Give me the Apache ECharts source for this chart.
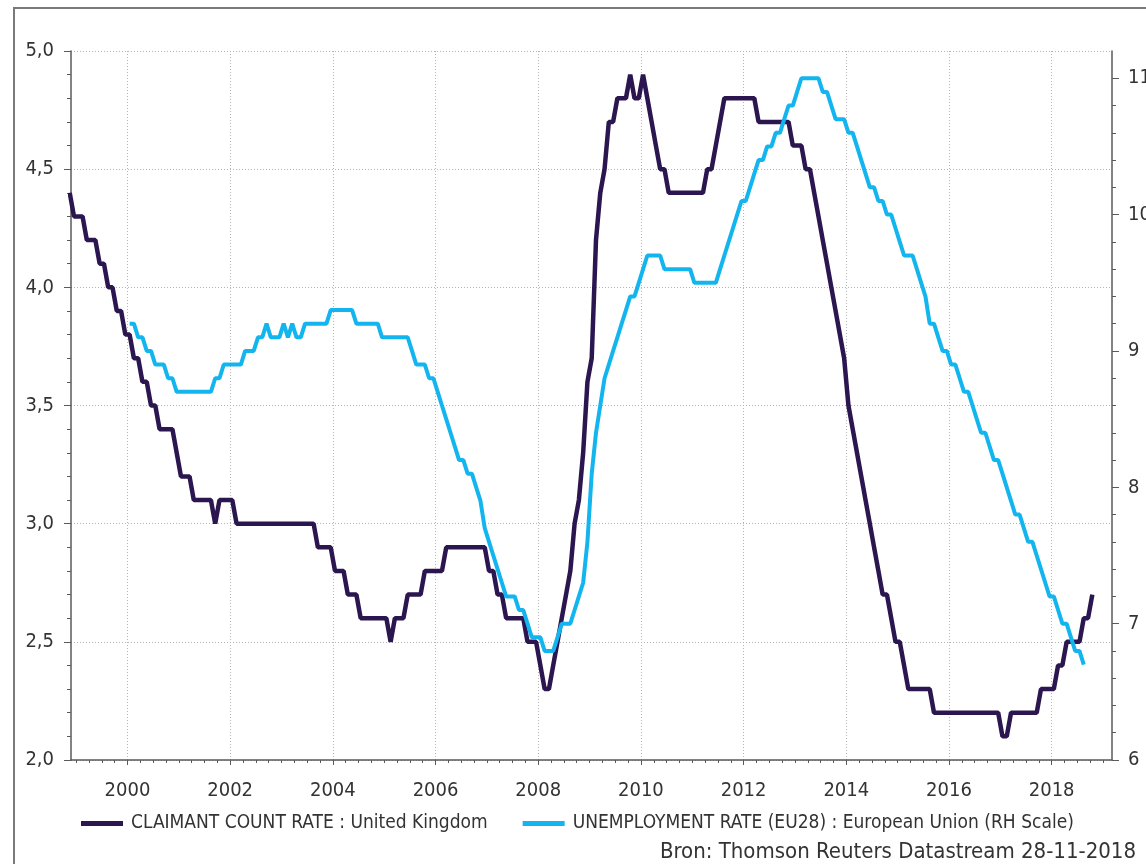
<!DOCTYPE html>
<html>
<head>
<meta charset="utf-8">
<script src="https://cdn.jsdelivr.net/npm/echarts@6/dist/echarts.min.js"></script>
<style>
html,body{margin:0;padding:0;background:#fff;overflow:hidden;}
#chart{width:1146px;height:864px;}
</style>
</head>
<body>
<div id="chart"></div>
<script>
var FONT = "'DejaVu Sans Condensed', 'Liberation Sans', sans-serif";

// maandcijfers (midden van de maand), eerste maand staat in de *Start variabele
var claimantStart = [1998, 11];
var claimantRate = [
	4.4,4.3,
	4.3,4.3,4.2,4.2,4.2,4.1,4.1,4.0,4.0,3.9,3.9,3.8,          // 1999
	3.8,3.7,3.7,3.6,3.6,3.5,3.5,3.4,3.4,3.4,3.4,3.3,          // 2000
	3.2,3.2,3.2,3.1,3.1,3.1,3.1,3.1,3.0,3.1,3.1,3.1,          // 2001
	3.1,3.0,3.0,3.0,3.0,3.0,3.0,3.0,3.0,3.0,3.0,3.0,          // 2002
	3.0,3.0,3.0,3.0,3.0,3.0,3.0,3.0,2.9,2.9,2.9,2.9,          // 2003
	2.8,2.8,2.8,2.7,2.7,2.7,2.6,2.6,2.6,2.6,2.6,2.6,          // 2004
	2.6,2.5,2.6,2.6,2.6,2.7,2.7,2.7,2.7,2.8,2.8,2.8,          // 2005
	2.8,2.8,2.9,2.9,2.9,2.9,2.9,2.9,2.9,2.9,2.9,2.9,          // 2006
	2.8,2.8,2.7,2.7,2.6,2.6,2.6,2.6,2.6,2.5,2.5,2.5,          // 2007
	2.4,2.3,2.3,2.4,2.5,2.6,2.7,2.8,3.0,3.1,3.3,3.6,          // 2008
	3.7,4.2,4.4,4.5,4.7,4.7,4.8,4.8,4.8,4.9,4.8,4.8,          // 2009
	4.9,4.8,4.7,4.6,4.5,4.5,4.4,4.4,4.4,4.4,4.4,4.4,          // 2010
	4.4,4.4,4.4,4.5,4.5,4.6,4.7,4.8,4.8,4.8,4.8,4.8,          // 2011
	4.8,4.8,4.8,4.7,4.7,4.7,4.7,4.7,4.7,4.7,4.7,4.6,          // 2012
	4.6,4.6,4.5,4.5,4.4,4.3,4.2,4.1,4.0,3.9,3.8,3.7,          // 2013
	3.5,3.4,3.3,3.2,3.1,3.0,2.9,2.8,2.7,2.7,2.6,2.5,          // 2014
	2.5,2.4,2.3,2.3,2.3,2.3,2.3,2.3,2.2,2.2,2.2,2.2,          // 2015
	2.2,2.2,2.2,2.2,2.2,2.2,2.2,2.2,2.2,2.2,2.2,2.2,          // 2016
	2.1,2.1,2.2,2.2,2.2,2.2,2.2,2.2,2.2,2.3,2.3,2.3,          // 2017
	2.3,2.4,2.4,2.5,2.5,2.5,2.5,2.6,2.6,2.7                   // 2018
];

var euStart = [2000, 1];
var euRate = [
	9.2,9.2,9.1,9.1,9.0,9.0,8.9,8.9,8.9,8.8,8.8,8.7,          // 2000
	8.7,8.7,8.7,8.7,8.7,8.7,8.7,8.7,8.8,8.8,8.9,8.9,          // 2001
	8.9,8.9,8.9,9.0,9.0,9.0,9.1,9.1,9.2,9.1,9.1,9.1,          // 2002
	9.2,9.1,9.2,9.1,9.1,9.2,9.2,9.2,9.2,9.2,9.2,9.3,          // 2003
	9.3,9.3,9.3,9.3,9.3,9.2,9.2,9.2,9.2,9.2,9.2,9.1,          // 2004
	9.1,9.1,9.1,9.1,9.1,9.1,9.0,8.9,8.9,8.9,8.8,8.8,          // 2005
	8.7,8.6,8.5,8.4,8.3,8.2,8.2,8.1,8.1,8.0,7.9,7.7,          // 2006
	7.6,7.5,7.4,7.3,7.2,7.2,7.2,7.1,7.1,7.0,6.9,6.9,          // 2007
	6.9,6.8,6.8,6.8,6.9,7.0,7.0,7.0,7.1,7.2,7.3,7.6,          // 2008
	8.1,8.4,8.6,8.8,8.9,9.0,9.1,9.2,9.3,9.4,9.4,9.5,          // 2009
	9.6,9.7,9.7,9.7,9.7,9.6,9.6,9.6,9.6,9.6,9.6,9.6,          // 2010
	9.5,9.5,9.5,9.5,9.5,9.5,9.6,9.7,9.8,9.9,10.0,10.1,        // 2011
	10.1,10.2,10.3,10.4,10.4,10.5,10.5,10.6,10.6,10.7,10.8,10.8, // 2012
	10.9,11.0,11.0,11.0,11.0,11.0,10.9,10.9,10.8,10.7,10.7,10.7, // 2013
	10.6,10.6,10.5,10.4,10.3,10.2,10.2,10.1,10.1,10.0,10.0,9.9,  // 2014
	9.8,9.7,9.7,9.7,9.6,9.5,9.4,9.2,9.2,9.1,9.0,9.0,          // 2015
	8.9,8.9,8.8,8.7,8.7,8.6,8.5,8.4,8.4,8.3,8.2,8.2,          // 2016
	8.1,8.0,7.9,7.8,7.8,7.7,7.6,7.6,7.5,7.4,7.3,7.2,          // 2017
	7.2,7.1,7.0,7.0,6.9,6.8,6.8,6.7                           // 2018
];

var yearLabels = [2000, 2002, 2004, 2006, 2008, 2010, 2012, 2014, 2016, 2018];
var rightLabels = [6, 7, 8, 9, 10, 11];
var seriesNames = [
	'CLAIMANT COUNT RATE : United Kingdom',
	'UNEMPLOYMENT RATE (EU28) : European Union (RH Scale)'
];
var footerText = 'Bron: Thomson Reuters Datastream 28-11-2018';

function monthly(start, values){
	var out = [];
	for (var i = 0; i < values.length; i++) {
		out.push([start[0] + (start[1] - 0.5 + i) / 12, values[i]]);
	}
	return out;
}

// kwartaal-streepjes op de x-as, 0,2-stappen op de rechteras
var quarterTicks = [];
for (var q = 1999; q <= 2019; q += 0.25) {
	if (q % 2 !== 0) quarterTicks.push(q);
}
var rightMinor = [];
for (var r = 62; r <= 110; r += 2) {
	if (r % 10 !== 0) rightMinor.push(r / 10);
}

var axisColor = '#5a5a5a';
var textColor = '#333';
var gridLine = {show: true, lineStyle: {color: '#b4b4b4', type: [1, 2], width: 1}};

var myChart = echarts.init(document.getElementById('chart'), null, {renderer: 'canvas'});
var option = {
	animation: false,
	backgroundColor: '#fff',
	grid: {left: 71, right: 34, top: 51, bottom: 104, containLabel: false, outerBoundsMode: 'none'},
	legend: {
		left: 81,
		top: 814,
		padding: 0,
		icon: 'rect',
		itemWidth: 42,
		itemHeight: 5,
		itemGap: 35,
		data: seriesNames,
		textStyle: {fontFamily: FONT, fontSize: 19, color: textColor, padding: [0, 0, 0, 3]}
	},
	graphic: [
		{
			type: 'rect',
			silent: true,
			shape: {x: 14, y: 8, width: 1300, height: 1000},
			style: {fill: 'none', stroke: '#7a7a7a', lineWidth: 2}
		},
		{
			type: 'text',
			right: 10,
			top: 841,
			style: {text: footerText, font: '22px ' + FONT, fill: textColor}
		}
	],
	xAxis: [
		{
			type: 'value',
			min: 1998.9,
			max: 2019.175,
			axisLine: {show: true, lineStyle: {color: axisColor, width: 1.5}},
			axisTick: {show: true, customValues: yearLabels, length: 5, lineStyle: {color: axisColor}},
			axisLabel: {
				customValues: yearLabels,
				margin: 21,
				fontFamily: FONT,
				fontSize: 20,
				color: textColor,
				formatter: function(v){ return String(Math.round(v)); }
			},
			splitLine: gridLine
		},
		{
			type: 'value',
			position: 'bottom',
			min: 1998.9,
			max: 2019.175,
			axisLine: {show: false},
			axisTick: {show: true, customValues: quarterTicks, length: 3, lineStyle: {color: axisColor}},
			axisLabel: {show: false},
			splitLine: {show: false}
		}
	],
	yAxis: [
		{
			type: 'value',
			position: 'left',
			min: 2,
			max: 5,
			interval: 0.5,
			axisLine: {show: true, lineStyle: {color: axisColor, width: 1.5}},
			axisTick: {show: true, length: 7, lineStyle: {color: axisColor}},
			minorTick: {show: true, splitNumber: 5, length: 4, lineStyle: {color: axisColor}},
			axisLabel: {
				margin: 17,
				fontFamily: FONT,
				fontSize: 20,
				color: textColor,
				formatter: function(v){ return v.toFixed(1).replace('.', ','); }
			},
			splitLine: gridLine
		},
		{
			type: 'value',
			position: 'right',
			min: 6,
			max: 11.2,
			axisLine: {show: true, lineStyle: {color: axisColor, width: 1.5}},
			axisTick: {show: true, customValues: rightLabels, length: 7, lineStyle: {color: axisColor}},
			axisLabel: {
				customValues: rightLabels,
				margin: 16,
				fontFamily: FONT,
				fontSize: 20,
				color: textColor
			},
			splitLine: {show: false}
		},
		{
			type: 'value',
			position: 'right',
			min: 6,
			max: 11.2,
			axisLine: {show: false},
			axisTick: {show: true, customValues: rightMinor, length: 4, lineStyle: {color: axisColor}},
			axisLabel: {show: false},
			splitLine: {show: false}
		}
	],
	series: [
		{
			name: seriesNames[0],
			type: 'line',
			xAxisIndex: 0,
			yAxisIndex: 0,
			showSymbol: false,
			symbol: 'none',
			color: '#2b1650',
			lineStyle: {width: 4.5, color: '#2b1650'},
			data: monthly(claimantStart, claimantRate),
			z: 3
		},
		{
			name: seriesNames[1],
			type: 'line',
			xAxisIndex: 0,
			yAxisIndex: 1,
			showSymbol: false,
			symbol: 'none',
			color: '#13b5ef',
			lineStyle: {width: 4, color: '#13b5ef'},
			data: monthly(euStart, euRate),
			z: 4
		}
	]
};
myChart.setOption(option);
</script>
</body>
</html>
